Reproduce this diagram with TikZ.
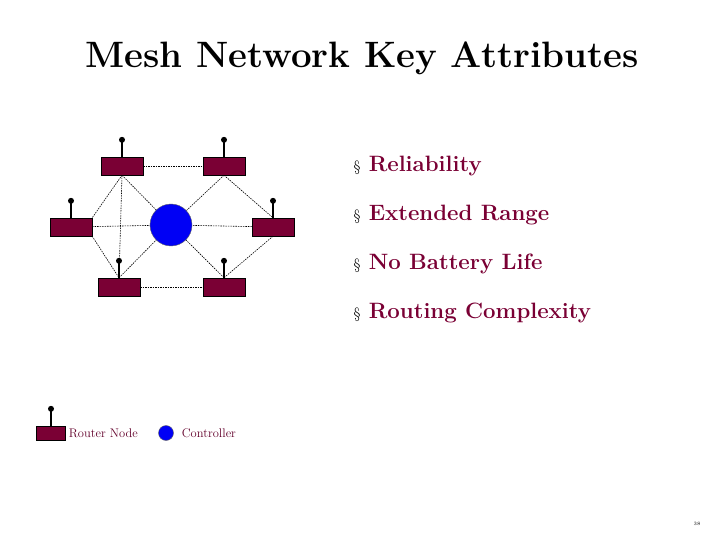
\documentclass[tikz,border=0pt]{standalone}
\usepackage{tikz}
\definecolor{maroon}{RGB}{122,0,52}
\definecolor{ctrlblue}{RGB}{0,0,245}
\tikzset{
  router/.style={draw=black,fill=maroon,minimum width=42pt,minimum height=18pt,inner sep=0pt},
  ctrl/.style={circle,draw=black!60,fill=ctrlblue,minimum size=42pt,inner sep=0pt},
  link/.style={line width=0.6pt,dash pattern=on 1.5pt off 1pt},
  item/.style={anchor=west,font=\fontsize{22.2}{26}\selectfont\bfseries,text=maroon},
  legend/.style={anchor=west,text=maroon!80!black,font=\fontsize{12.5}{14}\selectfont,inner sep=3pt}
}
\newcommand{\antenna}[1]{\draw[line width=1.6pt] (#1.north) -- ++(0,17pt) coordinate (#1-tip);
  \fill (#1-tip) circle (3pt);}
\begin{document}
\begin{tikzpicture}[x=1pt,y=-1pt]
\useasboundingbox (0,0) rectangle (720,540);

\node[font=\fontsize{36.7}{42}\selectfont\bfseries] (title) at (362,58) {Mesh Network Key Attributes};

% mesh
\node[ctrl] (c) at (171,225) {};
\node[router] (tl) at (122,166) {};
\node[router] (tr) at (224,166) {};
\node[router] (l) at (71,227) {};
\node[router] (r) at (273,227) {};
\node[router] (bl) at (119,287) {};
\node[router] (br) at (224,287) {};

\draw[link] (tl) -- (tr);
\draw[link] (bl) -- (br);
\draw[link] (tl.south) -- (bl.north);
\draw[link] (tl.south) -- (l.north east);
\draw[link] (tl.south) -- (c);
\draw[link] (tr.south) -- (r.north);
\draw[link] (tr.south) -- (c);
\draw[link] (l) -- (c);
\draw[link] (r) -- (c);
\draw[link] (l.south east) -- (bl.north);
\draw[link] (bl.north) -- (c);
\draw[link] (r.south) -- (br.north);
\draw[link] (br.north) -- (c);

\foreach \n in {tl,tr,l,r,bl,br} {\antenna{\n}}

% attributes
\foreach \t [count=\i] in {Reliability,Extended Range,No Battery Life,Routing Complexity}
  \node[item] (a\i) at (350,166+49*\i-49) {{\color{black}\mdseries\fontsize{15}{18}\selectfont\S}\ \t};

% legend
\node[router,minimum width=29pt,minimum height=14pt] (lr) at (51,433) {};
\antenna{lr}
\node[legend] (lrt) at (lr.east) {Router Node};
\node[ctrl,minimum size=15pt] (lc) at (166,433) {};
\node[legend,xshift=5pt] (lct) at (lc.east) {Controller};

\node[font=\tiny] (pg) at (697,524) {38};
\end{tikzpicture}
\end{document}
